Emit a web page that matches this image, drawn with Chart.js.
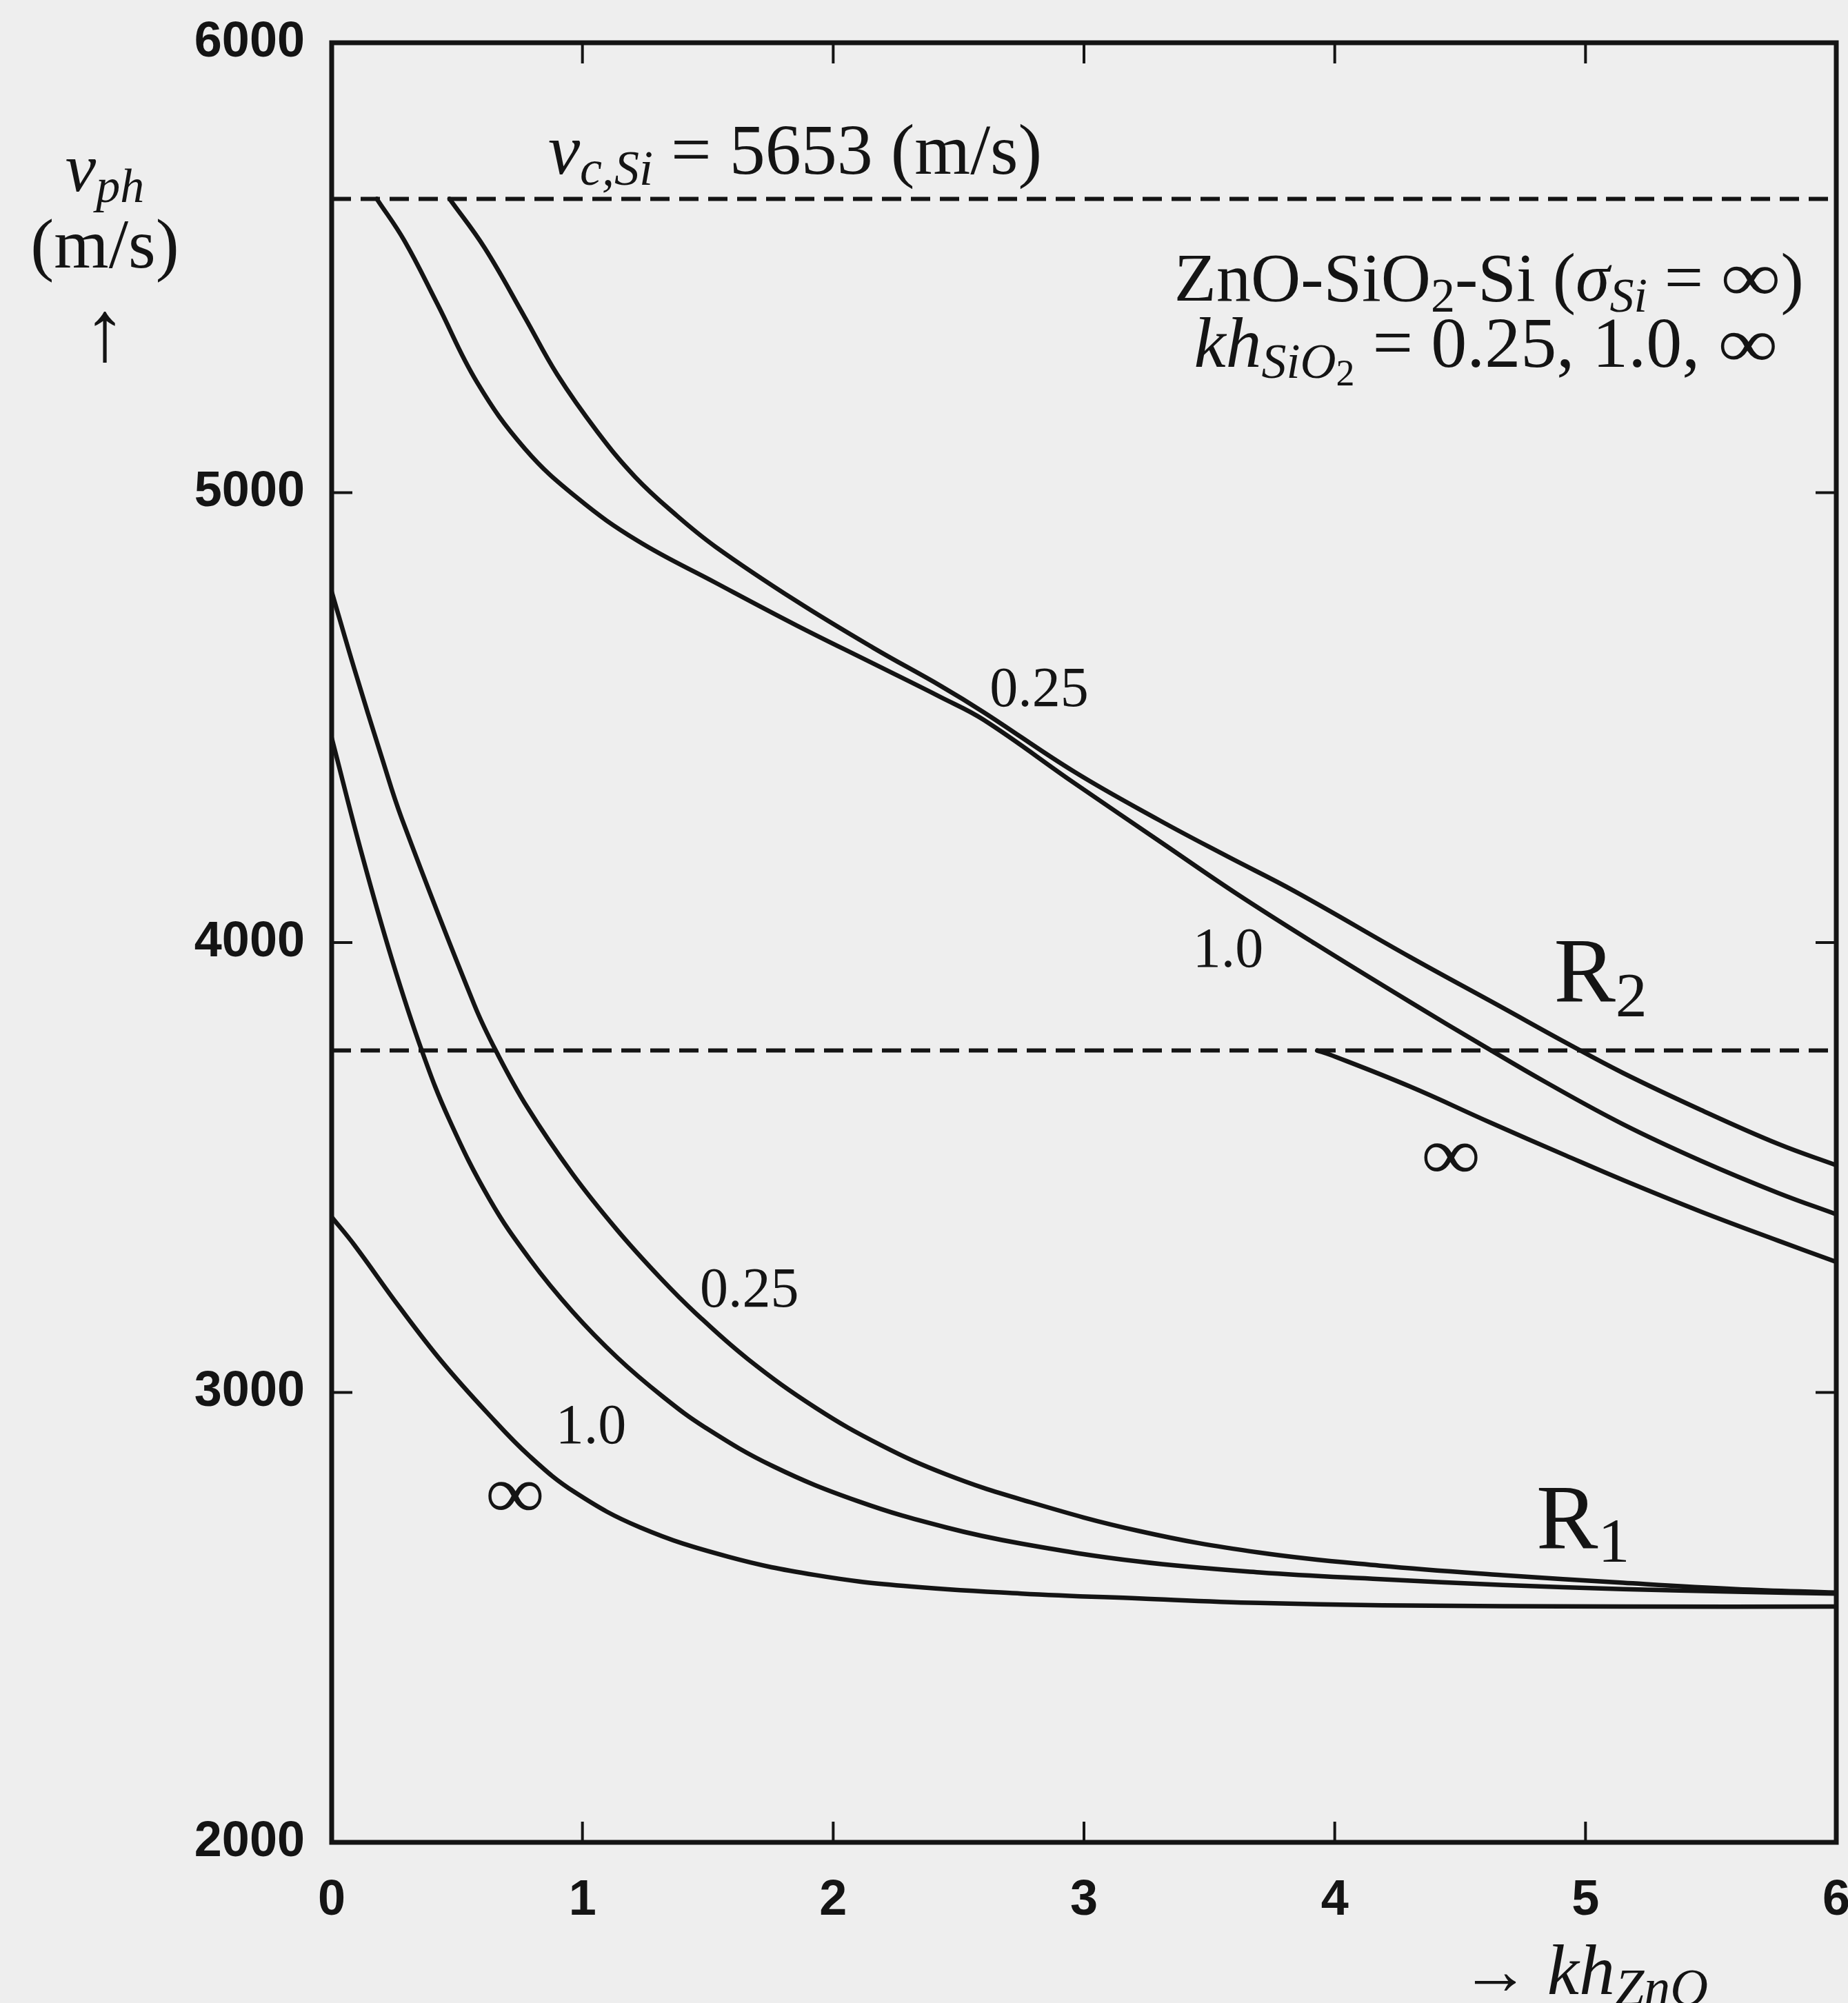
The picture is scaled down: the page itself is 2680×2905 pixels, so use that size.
<!DOCTYPE html>
<html><head><meta charset="utf-8">
<script src="https://cdn.jsdelivr.net/npm/chart.js@4.4.1/dist/chart.umd.min.js"></script>
<style>html,body{margin:0;padding:0;background:#eeeeee;}canvas{display:block;}</style>
</head><body>
<canvas id="c" width="2680" height="2905"></canvas>
<script>
// ---- tick labels ----
const xTicks = [0, 1, 2, 3, 4, 5, 6];
const xTickLabels = ['0', '1', '2', '3', '4', '5', '6'];
const yTicks = [2000, 3000, 4000, 5000, 6000];
const yTickLabels = ['2000', '3000', '4000', '5000', '6000'];

// ---- reference velocities (dashed lines) ----
const vcSi = 5653;     // v_c,Si
const vsSiO2 = 3760;   // lower dashed line

// ---- R2 curves (kh_ZnO, v_ph in m/s) ----
const r2_025_x = [0.47, 0.61, 0.77, 0.90, 1.06, 1.21, 1.37, 1.53, 1.85, 2.16, 2.43, 2.60, 2.96, 3.30, 3.57, 3.84, 4.30, 4.66, 4.92, 5.15, 5.46, 5.77, 6.0];
const r2_025_v = [5653, 5544, 5390, 5262, 5135, 5035, 4952, 4880, 4760, 4655, 4570, 4512, 4380, 4272, 4192, 4114, 3968, 3858, 3778, 3710, 3628, 3552, 3505];
const r2_10_x = [0.18, 0.29, 0.42, 0.58, 0.77, 0.98, 1.22, 1.53, 1.85, 2.16, 2.43, 2.60, 2.96, 3.32, 3.61, 3.92, 4.30, 4.60, 4.84, 5.15, 5.46, 5.77, 6.0];
const r2_10_v = [5653, 5560, 5421, 5245, 5098, 4988, 4893, 4800, 4706, 4620, 4545, 4495, 4355, 4218, 4108, 3998, 3868, 3768, 3690, 3596, 3515, 3443, 3396];
const r2_inf_x = [3.93, 3.98, 4.30, 4.62, 4.92, 5.15, 5.46, 5.77, 6.0];
const r2_inf_v = [3760, 3751, 3680, 3600, 3527, 3472, 3402, 3337, 3290];

// ---- R1 curves ----
const r1_025_x = [0, 0.09, 0.20, 0.28, 0.57, 0.66, 0.78, 0.96, 1.14, 1.31, 1.45, 1.66, 1.93, 2.19, 2.45, 2.75, 3.22, 3.70, 4.18, 4.67, 5.15, 5.6, 6.0];
const r1_025_v = [4780, 4609, 4411, 4275, 3860, 3754, 3634, 3486, 3360, 3255, 3177, 3074, 2966, 2883, 2818, 2762, 2692, 2644, 2615, 2594, 2577, 2563, 2555];
const r1_10_x = [0, 0.12, 0.24, 0.36, 0.47, 0.63, 0.79, 0.96, 1.14, 1.32, 1.49, 1.76, 2.10, 2.45, 2.75, 3.22, 3.70, 4.18, 4.67, 5.15, 5.6, 6.0];
const r1_10_v = [4455, 4197, 3963, 3759, 3605, 3429, 3296, 3180, 3077, 2991, 2922, 2836, 2758, 2700, 2664, 2624, 2600, 2585, 2572, 2563, 2557, 2553];
const r1_inf_x = [0, 0.09, 0.27, 0.44, 0.62, 0.79, 0.97, 1.23, 1.58, 1.93, 2.28, 2.75, 3.22, 3.70, 4.19, 5.15, 6.0];
const r1_inf_v = [3390, 3328, 3190, 3068, 2955, 2858, 2778, 2700, 2635, 2594, 2570, 2553, 2542, 2532, 2527, 2524, 2524];

const INK = '#141414';
const SERIF = '"Liberation Serif", "Times New Roman", serif';
const SANS = '"Liberation Sans", Arial, sans-serif';
const rm = s => `${s}px ${SERIF}`;
const it = s => `italic ${s}px ${SERIF}`;

function pts(xs, vs) { return xs.map((x, i) => ({ x: x, y: vs[i] })); }
function curve(xs, vs) {
  return { data: pts(xs, vs), showLine: true, borderColor: INK, borderWidth: 6.5,
           pointRadius: 0, tension: 0.4, fill: false, borderCapStyle: 'round', borderJoinStyle: 'round' };
}
function dashed(v) {
  return { data: [{ x: xTicks[0], y: v }, { x: xTicks[xTicks.length - 1], y: v }], showLine: true,
           borderColor: INK, borderWidth: 6, borderDash: [28, 14], pointRadius: 0, fill: false };
}

function drawRich(ctx, segs, cx, baseY) {
  let w = 0;
  segs.forEach(s => { ctx.font = s.f; s.w = ctx.measureText(s.t).width * (s.sx || 1); w += s.w; });
  let x = cx - w / 2;
  ctx.textBaseline = 'alphabetic';
  ctx.textAlign = 'left';
  segs.forEach(s => {
    ctx.font = s.f;
    ctx.save();
    ctx.translate(x, baseY + (s.dy || 0));
    ctx.scale(s.sx || 1, 1);
    ctx.fillText(s.t, 0, 0);
    ctx.restore();
    x += s.w;
  });
}

const decor = {
  id: 'decor',
  beforeDraw(chart) {
    const ctx = chart.ctx;
    ctx.save();
    ctx.fillStyle = '#eeeeee';
    ctx.fillRect(0, 0, chart.width, chart.height);
    ctx.restore();
  },
  afterDraw(chart) {
    const ctx = chart.ctx, a = chart.chartArea;
    const xs = chart.scales.x, ys = chart.scales.y;
    ctx.save();
    ctx.strokeStyle = INK;
    ctx.fillStyle = INK;
    // frame
    ctx.lineWidth = 7;
    ctx.strokeRect(a.left, a.top, a.right - a.left, a.bottom - a.top);
    // inward ticks on all four sides
    ctx.lineWidth = 4;
    const L = 30;
    ctx.beginPath();
    xTicks.forEach(t => {
      const p = xs.getPixelForValue(t);
      ctx.moveTo(p, a.bottom); ctx.lineTo(p, a.bottom - L);
      ctx.moveTo(p, a.top); ctx.lineTo(p, a.top + L);
    });
    yTicks.forEach(t => {
      const p = ys.getPixelForValue(t);
      ctx.moveTo(a.left, p); ctx.lineTo(a.left + L, p);
      ctx.moveTo(a.right, p); ctx.lineTo(a.right - L, p);
    });
    ctx.stroke();

    const X = v => xs.getPixelForValue(v), Y = v => ys.getPixelForValue(v);
    const inf = (s, sx) => ({ t: '\u221E', f: rm(s), sx: sx });

    // texts inside the plot
    drawRich(ctx, [{ t: 'v', f: it(104) }, { t: 'c,Si', f: it(72), dy: 16 }, { t: ' = 5653 (m/s)', f: rm(104) }], X(1.848), Y(5709));
    drawRich(ctx, [{ t: 'ZnO-SiO', f: rm(100) }, { t: '2', f: rm(70), dy: 16 }, { t: '-Si (', f: rm(100) },
                   { t: '\u03C3', f: it(100) }, { t: 'Si', f: it(70), dy: 16 }, { t: ' = ', f: rm(100) }, inf(102, 1.2), { t: ')', f: rm(100) }],
             X(4.615), Y(5427));
    drawRich(ctx, [{ t: 'kh', f: it(104) }, { t: 'SiO', f: it(72), dy: 16 }, { t: '2', f: rm(54), dy: 27 },
                   { t: ' = 0.25, 1.0, ', f: rm(104) }, inf(102, 1.2)],
             X(4.603), Y(5280));

    // curve labels
    const lab = (t, x, v) => drawRich(ctx, [{ t: t, f: rm(82) }], X(x), Y(v));
    lab('0.25', 2.821, 4526);
    lab('1.0', 3.575, 3946);
    drawRich(ctx, [inf(108, 1.12)], X(4.463), Y(3474));
    drawRich(ctx, [{ t: 'R', f: rm(134) }, { t: '2', f: rm(92), dy: 22 }], X(5.06), Y(3870));
    lab('0.25', 1.666, 3191);
    lab('1.0', 1.034, 2887);
    drawRich(ctx, [inf(108, 1.12)], X(0.731), Y(2722));
    drawRich(ctx, [{ t: 'R', f: rm(134) }, { t: '1', f: rm(92), dy: 20 }], X(4.99), Y(2655));

    // axis titles
    drawRich(ctx, [{ t: 'v', f: it(100) }, { t: 'ph', f: it(70), dy: 16 }], 152, 277);
    drawRich(ctx, [{ t: '(m/s)', f: rm(102) }], 152, 388);
    drawRich(ctx, [{ t: '\u2191', f: rm(125) }], 152, 522);
    drawRich(ctx, [{ t: '\u2192 ', f: rm(100) }, { t: 'kh', f: it(104) }, { t: 'ZnO', f: it(76), dy: 16 }], 2298, 2892);
    ctx.restore();
  }
};

function noPad(s) { s.paddingLeft = 0; s.paddingRight = 0; s.paddingTop = 0; s.paddingBottom = 0; }

new Chart(document.getElementById('c'), {
  type: 'scatter',
  data: {
    datasets: [
      dashed(vcSi), dashed(vsSiO2),
      curve(r2_025_x, r2_025_v), curve(r2_10_x, r2_10_v), curve(r2_inf_x, r2_inf_v),
      curve(r1_025_x, r1_025_v), curve(r1_10_x, r1_10_v), curve(r1_inf_x, r1_inf_v)
    ]
  },
  options: {
    responsive: false, animation: false, devicePixelRatio: 1,
    layout: { padding: { left: 0, top: 62, right: 17, bottom: 0 } },
    plugins: { legend: { display: false }, tooltip: { enabled: false } },
    scales: {
      x: {
        type: 'linear', min: 0, max: 6,
        afterBuildTicks: s => { s.ticks = xTicks.map(v => ({ value: v })); },
        afterFit: s => { s.height = 233; noPad(s); },
        ticks: { callback: v => xTickLabels[xTicks.indexOf(v)], color: INK, padding: 42, maxRotation: 0, minRotation: 0,
                 font: { family: SANS, size: 72, weight: 'bold' } },
        grid: { display: false, drawTicks: false }, border: { display: false }
      },
      y: {
        type: 'linear', min: 2000, max: 6000,
        afterBuildTicks: s => { s.ticks = yTicks.map(v => ({ value: v })); },
        afterFit: s => { s.width = 481; noPad(s); },
        ticks: { callback: v => yTickLabels[yTicks.indexOf(v)], color: INK, padding: 39,
                 font: { family: SANS, size: 72, weight: 'bold' } },
        grid: { display: false, drawTicks: false }, border: { display: false }
      }
    }
  },
  plugins: [decor]
});
</script>
</body></html>
